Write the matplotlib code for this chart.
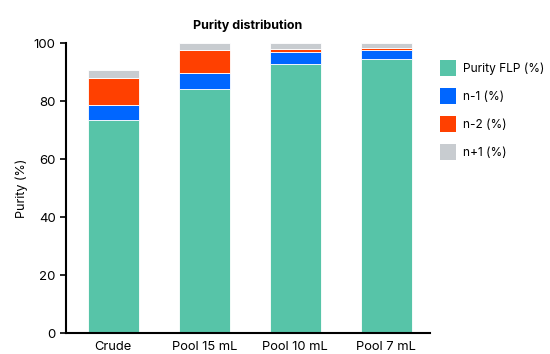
import matplotlib
matplotlib.use("Agg")
import matplotlib.pyplot as plt
from matplotlib.patches import Patch

categories = ["Crude", "Pool 15 mL", "Pool 10 mL", "Pool 7 mL"]
flp = [73.4, 84.1, 92.8, 94.5]
n_minus1 = [5.3, 5.4, 4.2, 3.0]
n_minus2 = [9.3, 8.0, 0.8, 0.8]
n_plus1 = [2.8, 2.5, 2.2, 1.7]
series_names = ["Purity FLP (%)", "n-1 (%)", "n-2 (%)", "n+1 (%)"]
colors = ["#57C4A8", "#0066FF", "#FF4000", "#C8CCD0"]

plt.rcParams['font.family'] = ['Inter', 'DejaVu Sans']
fig = plt.figure(figsize=(5.5, 3.54), dpi=100)
ax = fig.add_axes([66/550, (354-333)/354, (430-66)/550, (333-43)/354])

x = list(range(len(categories)))
bottom = [0]*len(categories)
for vals, c, name in zip([flp, n_minus1, n_minus2, n_plus1], colors, series_names):
    ax.bar(x, vals, bottom=bottom, width=0.56, color=c, edgecolor='white', linewidth=0.6, label=name)
    bottom = [b+v for b, v in zip(bottom, vals)]

ax.set_xlim(-0.52, 3.48)
ax.set_ylim(0, 100)
ax.set_yticks(range(0, 101, 20))
ax.set_xticks(x)
ax.set_xticklabels(categories, fontsize=9.3)
ax.tick_params(axis='y', labelsize=9.5, length=4, width=1.2)
ax.tick_params(axis='x', length=0, pad=6)
for s in ['top', 'right']:
    ax.spines[s].set_visible(False)
for s in ['left', 'bottom']:
    ax.spines[s].set_linewidth(1.5)
ax.set_ylabel("Purity (%)", fontsize=9)
ax.set_title("Purity distribution", fontsize=9, fontweight='bold', pad=10)

handles = [Patch(facecolor=c, edgecolor='none') for c in colors]
fig.legend(handles, series_names, loc='upper left', bbox_to_anchor=(440/550, 1-60/354),
           frameon=False, fontsize=8.6, handlelength=1.34, handleheight=1.68,
           labelspacing=1.0, handletextpad=0.62, borderaxespad=0, borderpad=0)

fig.savefig("out.png", dpi=100)
